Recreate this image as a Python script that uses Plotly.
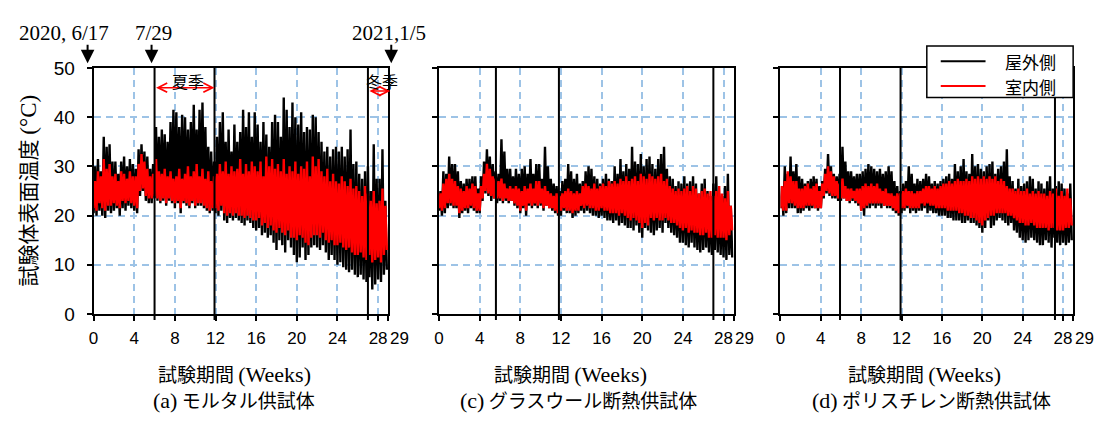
import numpy as np
import plotly.graph_objects as go

W, H = 1104, 421

# Surface temperature (°C). Values are 2-day extremes:
# lows fall on even days (0, 2, 4, ...), highs on odd days (1, 3, 5, ...).
# Each row below spans two weeks.

# (a) mortar specimen
a_out_hi = [30, 31.5, 29, 36, 34, 34.5, 31,
            31, 28.5, 31, 32, 30, 31.5, 30.5,
            29.5, 33.5, 34.5, 33, 32, 29.5, 30.5,
            38, 36, 37.5, 36.5, 35, 39, 41.5,
            41, 38, 40.5, 40, 37.5, 39, 42.5,
            37.5, 41.5, 43, 38, 34, 33, 31,
            36, 39, 41, 35, 37.5, 33, 38.5,
            35, 37, 41.5, 38, 41, 36, 41,
            38.5, 35, 39, 36.5, 34, 39, 40.5,
            39, 36, 44, 41.5, 38, 43, 40,
            38.5, 41, 37, 38, 37.5, 40.5, 40,
            37, 35, 33, 34, 32, 33.5, 34,
            33, 34, 32, 33.5, 37.5, 30.5, 31,
            28.5, 27.5, 29, 30, 25, 34.5, 27.5,
            27.5, 33.5, 23]
a_out_lo = [20.5, 20, 21, 20, 19.5, 21, 20.5,
            21, 21.5, 20, 21.5, 21, 22, 21.5,
            21, 20.5, 24, 25, 23, 22.5, 22.5,
            23.5, 23, 22.5, 23, 22, 23, 22.5,
            21.5, 22.5, 20.5, 22.5, 22, 21.5, 22.5,
            21.5, 22, 22, 21.5, 21, 20.5, 21,
            20.5, 20, 21, 19, 18.5, 19.5, 19,
            19.5, 19, 18.5, 18, 19, 18.5, 17.5,
            17, 17.5, 16, 16.5, 15.5, 16, 14.5,
            13, 15, 14, 12.5, 15, 13.5, 12,
            10.5, 11.5, 13.5, 11, 12, 13.5, 14,
            13.5, 13, 14, 12.5, 11, 12, 11,
            10, 10.5, 9.5, 9, 8.5, 9, 8,
            7.5, 8, 7, 6.5, 7.5, 5, 6,
            7, 6.5, 8, 9]
a_in_hi = [27, 29, 28, 31.5, 29.5, 30.5, 28,
           28.5, 27, 29, 28.5, 27.5, 29, 28,
           28, 30.5, 32.5, 31, 29.5, 28, 28.5,
           31.5, 29, 28.5, 29.5, 28, 29, 27.5,
           28, 29.5, 27.5, 28.5, 30, 28, 29,
           30.5, 28, 29.5, 27.5, 29, 27, 28,
           28.5, 30.5, 29, 31, 28.5, 30, 29,
           29.5, 31.5, 28.5, 30.5, 29, 31, 30,
           29, 31, 28, 32, 30, 31.5, 29.5,
           30.5, 29, 31.5, 28.5, 30, 29, 31,
           28.5, 30, 29.5, 31, 28, 32, 30,
           31.5, 29, 28, 29.5, 27, 28.5, 27,
           26.5, 28, 27, 26, 27.5, 25.5, 26,
           25, 24, 26, 24.5, 23, 25, 22.5,
           23, 25.5, 22]
a_in_lo = [21.5, 21, 22.5, 21.5, 21, 22, 22,
           22.5, 22, 21.5, 23, 22.5, 23, 22.5,
           22, 21.5, 25, 25.5, 24, 23.5, 23.5,
           24, 23.5, 23, 23.5, 22.5, 23.5, 23,
           22.5, 23, 21.5, 23, 22.5, 22, 23,
           22, 22.5, 22.5, 22, 21.5, 21, 21.5,
           21.5, 21, 22, 20.5, 20, 20.5, 20,
           20.5, 20, 20, 19.5, 20, 19.5, 19,
           19, 19.5, 18, 18.5, 17.5, 18, 17,
           16.5, 17.5, 16.5, 16, 17, 15.5, 15.5,
           15, 16, 15.5, 14.5, 14, 15.5, 16,
           16, 15.5, 16.5, 15, 14.5, 15, 14,
           14, 14.5, 13.5, 13, 13.5, 12.5, 12,
           12, 12.5, 11.5, 11, 12, 10.5, 11,
           11.5, 10.5, 12, 13]

# (c) glass-wool insulated specimen
c_out_hi = [25, 29, 28.5, 32, 30.5, 30.5, 29,
            27, 26.5, 27.5, 27.5, 28, 28, 25.5,
            28, 31, 33.5, 32, 30.5, 29, 28.5,
            35.5, 33, 29.5, 29.5, 28, 29.5, 28.5,
            29.5, 30, 28.5, 31.5, 28.5, 30.5, 30.5,
            27.5, 34, 30, 27.5, 26.5, 26, 25,
            27, 27.5, 30.5, 29, 27.5, 28.5, 26.5,
            27, 29, 30, 29.5, 28, 27.5, 26.5,
            27.5, 28.5, 27.5, 27, 30, 28.5, 31.5,
            29, 30.5, 29.5, 34, 31, 30.5, 32.5,
            30, 31.5, 32, 30.5, 29.5, 31.5, 32.5,
            34, 29.5, 28, 27.5, 26, 27, 26.5,
            28, 26.5, 27, 28, 26.5, 24.5, 26.5,
            27.5, 25, 24, 26.5, 28, 24.5, 24,
            26, 28.5, 22]
c_out_lo = [21, 20, 20.5, 21.5, 22, 21.5, 21.5,
            19.5, 20.5, 21, 20.5, 21.5, 21, 20.5,
            20.5, 23, 24.5, 24, 23, 23.5, 22.5,
            23, 22.5, 23, 22.5, 23, 22, 21.5,
            20.5, 21.5, 20, 22, 21.5, 22, 21.5,
            22, 21, 22, 21.5, 21, 20.5, 20,
            20, 21, 20.5, 20.5, 19.5, 20, 20.5,
            21, 20.5, 21, 20.5, 20, 20, 19.5,
            20, 19.5, 19, 19, 18.5, 19, 18,
            18.5, 18, 17.5, 17.5, 17, 18, 16.5,
            15.5, 17.5, 17, 16.5, 16, 17, 17.5,
            16.5, 18.5, 17.5, 16.5, 16, 15.5, 14.5,
            14.5, 14, 13.5, 14.5, 13.5, 13, 12.5,
            13, 13.5, 12.5, 12, 13, 12.5, 12,
            11.5, 11, 12, 11.5]
c_in_hi = [24.5, 26.5, 27.5, 28.5, 27.5, 27, 26,
           25.5, 25, 26, 25.5, 26.5, 26, 24.5,
           26, 28.5, 30.5, 29.5, 28, 27.5, 27,
           27.5, 26.5, 25.5, 26, 25.5, 26, 25.5,
           25, 26, 25.5, 26.5, 25.5, 27, 27,
           25.5, 26, 25, 24.5, 24, 24.5, 24,
           24.5, 25, 25.5, 25, 24.5, 25, 24.5,
           26, 26.5, 26, 25.5, 26.5, 25.5, 26,
           26.5, 26, 27, 26.5, 27, 26.5, 27.5,
           27, 28, 27, 27.5, 28, 27, 28.5,
           28, 27.5, 28.5, 28, 27.5, 28, 28.5,
           27, 27.5, 26, 25.5, 25, 25.5, 25,
           25.5, 26, 25, 26, 25.5, 24.5, 25,
           25.5, 24.5, 25, 24, 25, 26, 24.5,
           23.5, 25, 22]
c_in_lo = [21.5, 21, 21.5, 22.5, 22.5, 22, 22,
           20.5, 21, 21.5, 21.5, 22, 21.5, 21,
           21, 23.5, 25, 24.5, 24, 23.5, 23.5,
           23.5, 23, 23.5, 23, 23, 22.5, 22,
           21, 22, 21, 22.5, 22, 22.5, 22,
           22.5, 21.5, 22, 21.5, 21.5, 21, 20.5,
           21, 21.5, 21, 21, 20.5, 21, 21,
           22, 21.5, 22, 21.5, 21.5, 21, 21,
           21.5, 21, 21, 20.5, 20.5, 20.5, 20,
           20.5, 20, 19.5, 19, 19.5, 19, 18.5,
           17.5, 18.5, 18, 19.5, 19, 19.5, 19,
           19, 19.5, 19, 18.5, 18.5, 18, 17.5,
           17, 17.5, 16.5, 17, 16.5, 16.5, 16,
           16, 16.5, 15.5, 15.5, 16, 15.5, 15.5,
           15.5, 15, 16, 17]

# (d) polystyrene insulated specimen
d_out_hi = [26, 30, 28.5, 32, 29, 30.5, 28,
            27.5, 26.5, 27, 27.5, 28, 27.5, 26,
            27, 29.5, 32.5, 30, 28.5, 28, 28.5,
            34, 31, 29, 29, 28, 28.5, 28.5,
            29, 29.5, 30.5, 30, 29.5, 29, 29.5,
            28.5, 29, 30, 29, 27, 26, 25,
            26.5, 27, 30, 28.5, 26.5, 27.5, 27,
            27.5, 28.5, 28, 26.5, 27, 26.5, 27,
            27.5, 28, 28.5, 27.5, 30.5, 29, 30,
            31.5, 29, 28.5, 32.5, 30, 30.5, 29.5,
            29, 30, 30.5, 31, 28.5, 29.5, 30,
            31, 33.5, 28, 27, 25.5, 27.5, 26,
            26.5, 27, 28, 27.5, 25.5, 27, 26.5,
            25.5, 27, 28, 25.5, 26, 27, 26.5,
            25.5, 24.5, 26.5]
d_out_lo = [21.5, 20, 20.5, 21.5, 21.5, 21.5, 20.5,
            20.5, 21, 21.5, 21, 21.5, 21.5, 21,
            21.5, 23.5, 24.5, 24, 23.5, 23.5, 23,
            23, 23.5, 23, 22.5, 23, 22.5, 22,
            21, 20, 21.5, 21.5, 22, 21.5, 22,
            21.5, 22, 21.5, 21.5, 21, 20.5, 20,
            20.5, 21, 21.5, 20.5, 21, 20.5, 21,
            21, 21.5, 20.5, 21, 20.5, 20.5, 20,
            20, 20, 19.5, 19.5, 19, 19, 19,
            18.5, 18.5, 19, 18.5, 18.5, 18, 17.5,
            16.5, 17.5, 19, 17.5, 18, 19, 19.5,
            19, 18.5, 18, 18.5, 17, 16.5, 15.5,
            15, 14.5, 15, 15.5, 15, 14.5, 14,
            14, 15, 14.5, 13.5, 15.5, 14.5, 14,
            14.5, 14, 14.5, 15]
d_in_hi = [26, 27, 29, 28, 27, 27, 25.5,
           25.5, 26, 26.5, 25.5, 26, 26.5, 25,
           26.5, 28.5, 30, 29, 28, 27, 26.5,
           27.5, 26, 25.5, 25.5, 25, 25.5, 25.5,
           26, 26.5, 26, 26.5, 26, 26.5, 25.5,
           25, 25.5, 24.5, 24.5, 24, 24.5, 24.5,
           25, 25.5, 25, 25, 24.5, 25, 25,
           25.5, 26, 26, 25.5, 26, 25.5, 26,
           26.5, 26.5, 27, 26.5, 27, 27.5, 27,
           27, 27.5, 27, 28, 27.5, 28, 27.5,
           28, 27.5, 28, 27.5, 28, 27, 27.5,
           27, 26, 25.5, 25.5, 25, 25.5, 25,
           25, 25.5, 24.5, 25, 24.5, 25, 24.5,
           24.5, 24, 25, 24.5, 25.5, 24, 25,
           24, 25.5, 23.5]
d_in_lo = [21.5, 21, 21, 22.5, 22.5, 22, 21.5,
           21.5, 21.5, 22, 22, 22, 21.5, 21.5,
           21.5, 24, 25, 24.5, 24, 24, 23.5,
           23.5, 23.5, 23, 23, 23.5, 23, 22.5,
           21, 21.5, 22, 22.5, 22.5, 22.5, 22.5,
           22.5, 22, 22, 22, 21.5, 21, 20.5,
           21.5, 21.5, 22, 21.5, 21.5, 21.5, 21.5,
           22.5, 22, 22.5, 22, 22, 21.5, 21.5,
           21.5, 21.5, 21, 21, 21, 21, 20.5,
           20.5, 20, 20, 19.5, 19.5, 19, 18.5,
           18, 19, 19.5, 20, 20, 20.5, 20.5,
           20.5, 20.5, 20, 20, 19.5, 19, 18.5,
           18.5, 18, 18, 18.5, 18, 17.5, 17.5,
           17.5, 17.5, 17, 17.5, 17.5, 17, 17,
           17, 17.5, 17.5, 18]

# Season boundaries (weeks) drawn as vertical lines in each panel
a_marks = [6.0, 11.9, 27.0]
c_marks = [5.6, 11.8, 27.0]
d_marks = [5.9, 11.9, 27.2]

x_ticks = [0, 4, 8, 12, 16, 20, 24, 28, 29]
x_ticktext = ["0", "4", "8", "12", "16", "20", "24", "28", ""]
y_ticks = [0, 10, 20, 30, 40, 50]

series_names = ["屋外側", "室内側"]
series_colors = ["#000000", "#ff0000"]

CJK = "Noto Sans CJK JP"
SERIF = "Liberation Serif"
SANS = "Liberation Sans"


def zigzag(lo, hi):
    vals = []
    for k in range(len(lo)):
        vals.append(lo[k])
        if k < len(hi):
            vals.append(hi[k])
    days = np.arange(len(vals))
    return days / 7.0, vals


def px(x):
    return x / W


def py(y):
    return 1 - y / H


panels = [
    dict(out=(a_out_lo, a_out_hi), inn=(a_in_lo, a_in_hi), marks=a_marks, dom=(89, 385)),
    dict(out=(c_out_lo, c_out_hi), inn=(c_in_lo, c_in_hi), marks=c_marks, dom=(436, 732)),
    dict(out=(d_out_lo, d_out_hi), inn=(d_in_lo, d_in_hi), marks=d_marks, dom=(779, 1073)),
]

fig = go.Figure()
shapes = []
annotations = []

for i, p in enumerate(panels):
    sfx = "" if i == 0 else str(i + 1)
    xa, ya = "x" + sfx, "y" + sfx
    for j, (lo, hi) in enumerate([p["out"], p["inn"]]):
        xs, vs = zigzag(lo, hi)
        fig.add_trace(go.Scatter(
            x=xs, y=vs, mode="lines", xaxis=xa, yaxis=ya,
            name=series_names[j], showlegend=False,
            line=dict(color=series_colors[j], width=2.4),
        ))
    for m in p["marks"]:
        shapes.append(dict(type="line", xref=xa, yref=ya + " domain",
                           x0=m, x1=m, y0=-0.024, y1=1,
                           line=dict(color="black", width=2)))
    # last tick label sits just right of the end tick
    annotations.append(dict(
        xref=xa, yref="paper", x=29, y=py(346), xshift=11, showarrow=False,
        text="29", font=dict(family=SANS, size=17, color="black"),
        xanchor="center", yanchor="middle"))

axis_common = dict(
    showline=True, linecolor="black", linewidth=2, mirror=True,
    ticks="outside", ticklen=5, tickwidth=1.5, tickcolor="black",
    showgrid=True, gridcolor="#9dc3e6", gridwidth=1.5, griddash="7px,5px",
    zeroline=False,
)

layout = dict(
    width=W, height=H,
    margin=dict(l=0, r=0, t=0, b=0),
    paper_bgcolor="white", plot_bgcolor="white",
    showlegend=False,
)

for i, p in enumerate(panels):
    sfx = "" if i == 0 else str(i + 1)
    layout["xaxis" + sfx] = dict(
        axis_common, domain=[px(p["dom"][0]), px(p["dom"][1])],
        range=[0, 29], tickvals=x_ticks, ticktext=x_ticktext, tickangle=0,
        tickfont=dict(family=SANS, size=17, color="black"),
        anchor="y" + sfx, ticklabelstandoff=3,
    )
    layout["yaxis" + sfx] = dict(
        axis_common, domain=[py(320), py(61)], range=[0, 50],
        tickvals=y_ticks, showticklabels=(i == 0),
        tickfont=dict(family=SANS, size=19, color="black"),
        anchor="x" + sfx, ticklabelstandoff=8,
    )

fig.update_layout(**layout)

# legend box (top right, overlapping the frame of panel d)
shapes.append(dict(type="rect", xref="paper", yref="paper", layer="above",
                   x0=px(926), x1=px(1073), y0=py(92), y1=py(38),
                   fillcolor="white", line=dict(color="black", width=1.5)))
for j, yrow in enumerate([54, 80]):
    shapes.append(dict(type="line", xref="paper", yref="paper", layer="above",
                       x0=px(940), x1=px(985), y0=py(yrow), y1=py(yrow),
                       line=dict(color=series_colors[j], width=2)))
    annotations.append(dict(
        xref="paper", yref="paper", x=px(1003), y=py(yrow), showarrow=False,
        text=series_names[j], font=dict(family=CJK, size=17, color="black"),
        xanchor="left", yanchor="middle"))

# axis titles and panel captions
x_title = "試験期間 <span style='font-family:%s;font-size:22px'>(Weeks)</span>" % SERIF
captions = [
    ("(a)", "モルタル供試体", 231, 230),
    ("(c)", "グラスウール断熱供試体", 568, 576),
    ("(d)", "ポリスチレン断熱供試体", 924, 931),
]
for tag, name, xt, xc in captions:
    annotations.append(dict(
        xref="paper", yref="paper", x=px(xt), y=py(383), showarrow=False,
        text=x_title, font=dict(family=CJK, size=19, color="black"),
        xanchor="center", yanchor="middle"))
    annotations.append(dict(
        xref="paper", yref="paper", x=px(xc), y=py(410), showarrow=False,
        text="<span style='font-family:%s;font-size:22px'>%s</span> %s" % (SERIF, tag, name),
        font=dict(family=CJK, size=19, color="black"),
        xanchor="center", yanchor="middle"))

annotations.append(dict(
    xref="paper", yref="paper", x=px(22), y=py(190), showarrow=False,
    text="試験体表面温度 <span style='font-family:%s;font-size:23px'>(°C)</span>" % SERIF,
    textangle=-90, font=dict(family=CJK, size=21, color="black"),
    xanchor="center", yanchor="middle"))

# date markers above panel (a)
for label, xw, xs, xt in [("2020, 6/17", 0, -6, 59), ("7/29", 6, -3, 149), ("2021,1/5", 29, 3, 386)]:
    annotations.append(dict(
        xref="paper", yref="paper", x=px(xt), y=py(24), showarrow=False,
        text=label, font=dict(family=SERIF, size=21, color="black"),
        xanchor="center", yanchor="middle"))
    annotations.append(dict(
        xref="x", yref="paper", x=xw, y=py(56), xshift=xs,
        ax=0, ay=-20, text="", showarrow=True,
        arrowhead=2, arrowsize=1.35, arrowwidth=2, arrowcolor="black"))

# season spans
for label, x0, x1, yt, ya in [("夏季", 6.0, 11.9, 47.3, 46.0), ("冬季", 27.0, 29.2, 47.4, 45.3)]:
    annotations.append(dict(
        xref="x", yref="y", x=x1, y=ya, ax=x0, ay=ya, axref="x", ayref="y",
        text="", showarrow=True, arrowhead=5, arrowside="end+start",
        arrowsize=1.2, arrowwidth=1.5, arrowcolor="#ff0000"))
    annotations.append(dict(
        xref="x", yref="y", x=(x0 + x1) / 2 + 0.3, y=yt, showarrow=False,
        text=label, font=dict(family=CJK, size=16, color="black"),
        xanchor="center", yanchor="middle"))

fig.update_layout(shapes=shapes, annotations=annotations)
fig.write_html("out.html",
               post_script="document.body.style.margin='0';document.body.style.overflow='hidden';")
